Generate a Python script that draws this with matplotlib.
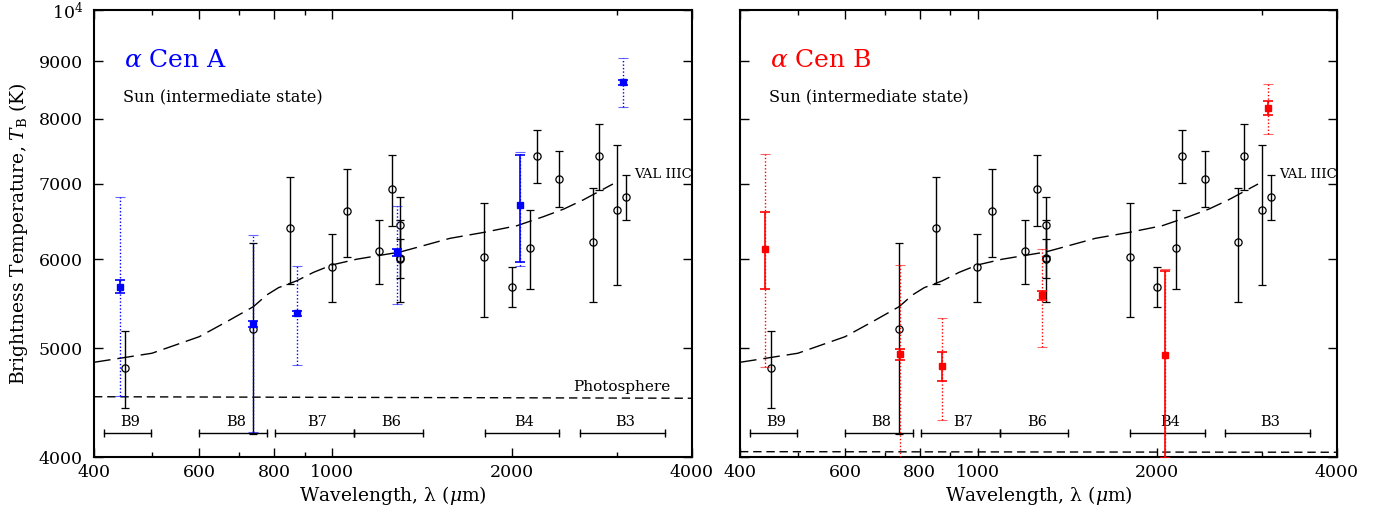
import matplotlib
matplotlib.use('Agg')
import matplotlib.pyplot as plt
from matplotlib.ticker import FixedLocator, FixedFormatter, NullFormatter

plt.rcParams['font.family'] = 'DejaVu Serif'
plt.rcParams['mathtext.fontset'] = 'dejavuserif'

# ---------------- data ----------------
# Sun (intermediate state) measurements
sun_lam = [450, 739, 851, 999, 1059, 1200, 1260, 1300, 1300, 1300,
           1798, 1998, 2146, 2202, 2400, 2729, 2799, 2996, 3098]
sun_T = [4801, 5197, 6401, 5909, 6619, 6105, 6930, 6432, 6010, 6000,
         6032, 5672, 6141, 7412, 7079, 6219, 7412, 6641, 6818]
sun_err = [381, 1000, 695, 412, 595, 398, 502, 390, 240, 500,
           702, 232, 498, 400, 404, 718, 503, 948, 310]

# alpha Cen A
cenA_lam = [442, 739, 873, 1283, 2065, 3070]
cenA_T = [5672, 5254, 5371, 6085, 6701, 8626]
cenA_err_stat = [75, 30, 30, 40, 730, 45]
cenA_err_tot = [1140, 1045, 540, 610, 780, 430]

# alpha Cen B
cenB_lam = [441, 740, 873, 1284, 2063, 3069]
cenB_T = [6125, 4937, 4817, 5573, 4927, 8176]
cenB_err_stat = [478, 55, 142, 50, 935, 115]
cenB_err_tot = [1315, 990, 500, 560, 950, 425]

# VAL IIIC model
val_lam = [400, 500, 600, 667, 739, 778, 814, 873, 931, 1000, 1100, 1300,
           1575, 1800, 2040, 2256, 2437, 2632, 2950]
val_T = [4857, 4948, 5119, 5279, 5444, 5576, 5660, 5740, 5840, 5930, 6000,
         6089, 6262, 6341, 6427, 6546, 6647, 6776, 7000]

# Photosphere levels
phot_lam = [400, 4000]
phot_T_A = [4526, 4512]
phot_T_B = [4044, 4039]

# ALMA bands
band_names = ['B9', 'B8', 'B7', 'B6', 'B4', 'B3']
band_lo = [416, 600, 804, 1090, 1800, 2600]
band_hi = [498, 779, 1090, 1420, 2400, 3600]

xticks_major = [400, 600, 800, 1000, 2000, 4000]
xticks_minor = [500, 700, 900, 3000]
yticks = [4000, 5000, 6000, 7000, 8000, 9000, 10000]
ytick_labels = ['4000', '5000', '6000', '7000', '8000', '9000', r'$10^4$']

# ---------------- figure ----------------
W, H = 1387, 509
fig = plt.figure(figsize=(W / 100, H / 100), dpi=100)
axA = fig.add_axes([94 / W, 52 / H, 598 / W, 447 / H])
axB = fig.add_axes([740 / W, 52 / H, 597 / W, 447 / H])


def draw_panel(ax, title, color, lam, T, e_stat, e_tot, phot_T, phot_label, ylab):
    ax.set_xscale('log')
    ax.set_yscale('log')
    ax.set_xlim(400, 4000)
    ax.set_ylim(4000, 10000)

    # model & photosphere
    ax.plot(val_lam, val_T, color='black', lw=1.0, dashes=(12, 5), zorder=2)
    ax.plot(phot_lam, phot_T, color='black', lw=1.0, dashes=(6, 3.5), zorder=2)

    # Sun points
    ax.errorbar(sun_lam, sun_T, yerr=sun_err, fmt='o', mfc='none', mec='black',
                ms=5.2, mew=0.9, ecolor='black', elinewidth=1.0,
                capsize=3, capthick=1.0, zorder=3)

    # star points: total (dotted) and statistical (solid)
    eb = ax.errorbar(lam, T, yerr=e_tot, fmt='none', ecolor=color,
                     elinewidth=1.0, capsize=3.5, capthick=0.8, zorder=4)
    for lc in eb[2]:
        lc.set_linestyle((0, (1, 1.5)))
    for cap in eb[1]:
        cap.set_alpha(0.6)
    ax.errorbar(lam, T, yerr=e_stat, fmt='s', color=color, ms=4.2,
                elinewidth=1.2, capsize=3.5, capthick=1.2, zorder=5)

    # bands
    for name, lo, hi in zip(band_names, band_lo, band_hi):
        ax.plot([lo, hi], [4204, 4204], color='black', lw=1.0, zorder=2)
        ax.plot([lo, hi], [4204, 4204], ls='none', marker='|', ms=6,
                mew=1.0, color='black', zorder=2)
        ax.text((lo * hi) ** 0.5 * 1.01, 4300, name, ha='center', va='center',
                fontsize=10.5)

    # texts
    ax.text(0.05, 0.888, title, transform=ax.transAxes, color=color,
            fontsize=18, ha='left', va='center')
    ax.text(0.048, 0.806, 'Sun (intermediate state)', transform=ax.transAxes,
            fontsize=11.5, ha='left', va='center')
    ax.text(0.903, 0.633, 'VAL IIIC', transform=ax.transAxes, fontsize=9.5,
            ha='left', va='center')
    if phot_label:
        ax.text(0.883, 0.156, 'Photosphere', transform=ax.transAxes,
                fontsize=11, ha='center', va='center')

    # axes styling
    ax.xaxis.set_major_locator(FixedLocator(xticks_major))
    ax.xaxis.set_major_formatter(FixedFormatter([str(v) for v in xticks_major]))
    ax.xaxis.set_minor_locator(FixedLocator(xticks_minor))
    ax.xaxis.set_minor_formatter(NullFormatter())
    ax.yaxis.set_major_locator(FixedLocator(yticks))
    ax.yaxis.set_minor_locator(FixedLocator([]))
    ax.yaxis.set_minor_formatter(NullFormatter())
    if ylab:
        ax.yaxis.set_major_formatter(FixedFormatter(ytick_labels))
        ax.set_ylabel(r'Brightness Temperature, $T_{\mathrm{B}}$ (K)',
                      fontsize=13.5, labelpad=6)
    else:
        ax.yaxis.set_major_formatter(NullFormatter())
    ax.tick_params(which='major', direction='in', top=True, right=True,
                   length=6.5, width=1.0, labelsize=12.5, pad=5)
    ax.tick_params(which='minor', direction='in', top=True, right=True,
                   length=3.8, width=1.0)
    ax.tick_params(axis='y', which='major', pad=8)
    ax.set_xlabel(r'Wavelength, λ ($\mu$m)', fontsize=13.5, labelpad=2)
    for sp in ax.spines.values():
        sp.set_linewidth(1.5)


draw_panel(axA, r'$\alpha$ Cen A', 'blue', cenA_lam, cenA_T, cenA_err_stat,
           cenA_err_tot, phot_T_A, True, True)
draw_panel(axB, r'$\alpha$ Cen B', 'red', cenB_lam, cenB_T, cenB_err_stat,
           cenB_err_tot, phot_T_B, False, False)

fig.savefig('out.png', dpi=100)
